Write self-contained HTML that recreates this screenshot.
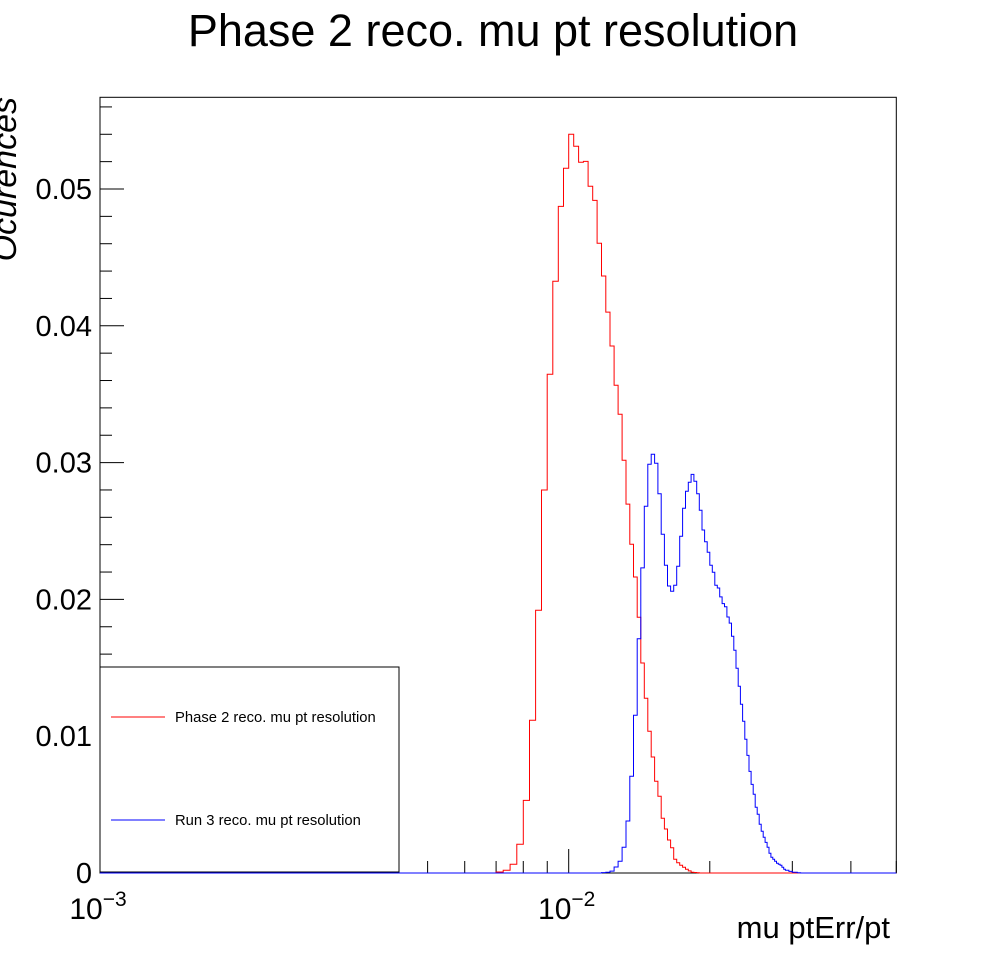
<!DOCTYPE html>
<html><head><meta charset="utf-8"><style>
html,body{margin:0;padding:0;background:#fff;}
svg{display:block;font-family:"Liberation Sans",Arial,sans-serif;}
</style></head><body>
<svg id="c" width="996" height="972" viewBox="0 0 996 972" xmlns="http://www.w3.org/2000/svg">
<rect x="0" y="0" width="996" height="972" fill="#fff"/>
<text x="493" y="46" font-size="45" text-anchor="middle">Phase 2 reco. mu pt resolution</text>
<text transform="translate(16,97) rotate(-90)" font-size="34" font-style="italic" text-anchor="end">Ocurences</text>
<text x="890" y="938" font-size="31" text-anchor="end">mu ptErr/pt</text>
<g id="axes"></g>
<g id="series"></g>
<g id="legend"></g>
</svg>
<script>
const binWidth = 0.00025;
const redStart = 28;
const redValues = [0.00007,0.0002,0.00064,0.0021,0.00531,0.01116,0.0192,0.028,0.03646,0.04326,0.04873,0.05151,0.054,0.05312,0.05195,0.05202,0.0502,0.04917,0.04604,0.04364,0.041,0.03852,0.03566,0.03353,0.03017,0.02697,0.02403,0.02164,0.01869,0.01535,0.01277,0.01036,0.00848,0.0067,0.00561,0.004,0.00322,0.00241,0.00185,0.001,0.00075,0.00056,0.00042,0.00027,0.00015,0.00005,0.00004,0.00002];
const blueStart = 47;
const blueValues = [0.00003,0.00005,0.00014,0.00044,0.00086,0.00188,0.0038,0.00707,0.01153,0.01713,0.0223,0.02681,0.02988,0.03061,0.02995,0.02773,0.02476,0.02249,0.02098,0.02059,0.02103,0.02242,0.02461,0.02666,0.0279,0.02856,0.02914,0.02863,0.02773,0.02651,0.02507,0.02422,0.02344,0.02249,0.02198,0.02103,0.02083,0.02018,0.01969,0.01947,0.01871,0.01827,0.0173,0.01628,0.01496,0.01365,0.01233,0.01109,0.00977,0.0086,0.00743,0.00648,0.00575,0.0048,0.00429,0.00356,0.00305,0.00261,0.00224,0.00188,0.00144,0.00115,0.001,0.00086,0.00071,0.00064,0.00056,0.00042,0.00027,0.0002,0.0002,0.00012,0.00012,0.00005,0.00005,0.00005,0.00002,0.00002];
const yTickValues = [0,0.01,0.02,0.03,0.04,0.05];
const yTickLabels = ["0","0.01","0.02","0.03","0.04","0.05"];
const xMin = 0.001, xMax = 0.05, yMax = 0.0567;

const L=100, R=896.3, T=97.3, B=873;
function xs(v){return L + (R-L)*Math.log10(v/xMin)/Math.log10(xMax/xMin);}
function ys(v){return B - v*13680;}
const NS="http://www.w3.org/2000/svg";
function mk(tag,attrs,parent){const e=document.createElementNS(NS,tag);for(const k in attrs)e.setAttribute(k,attrs[k]);parent.appendChild(e);return e;}
const axes=document.getElementById('axes');
const series=document.getElementById('series');
const legend=document.getElementById('legend');

const fr=mk('rect',{x:L,y:T,width:R-L,height:B-T,fill:'none',stroke:'#000','stroke-width':1},axes);



for(let i=0;i*0.002<=yMax;i++){
  const v=i*0.002, y=ys(v), major=(i%5===0);
  const t=mk('line',{x1:L,x2:L+(major?24:12),y1:y,y2:y,stroke:'#000','stroke-width':1},axes);
  
  
}
yTickValues.forEach((v,i)=>{
  const t=mk('text',{x:92,y:ys(v)+10,'font-size':29,'text-anchor':'end'},axes);
  t.textContent=yTickLabels[i];
  
  
});
for(let d=-3;d<=-2;d++){
  for(let m=1;m<=9;m++){
    const v=m*Math.pow(10,d);
    if(v<xMin||v>xMax)continue;
    const x=xs(v), major=(m===1);
    const t=mk('line',{x1:x,x2:x,y1:B,y2:B-(major?24:12),stroke:'#000','stroke-width':1},axes);
    
    
  }
}
[[-3,xMin],[-2,0.01]].forEach(([e,v])=>{
  const t=mk('text',{x:xs(v)-2,y:919,'font-size':30,'text-anchor':'middle'},axes);
  t.appendChild(document.createTextNode('10'));
  const s=mk('tspan',{dy:-13,'font-size':21},t);
  s.textContent='\u2212'+(-e);
  
  
});

function histPath(start,vals){
  const kMin=Math.ceil(xMin/binWidth), kMax=Math.floor(xMax/binWidth);
  let d='M'+xs(xMin).toFixed(1)+','+B;
  for(let k=kMin;k<kMax;k++){
    const idx=k-start;
    const v=(idx>=0&&idx<vals.length)?vals[idx]:0;
    const x0=xs(k*binWidth), x1=xs((k+1)*binWidth), y=ys(v);
    d+=' L'+x0.toFixed(1)+','+y.toFixed(1)+' L'+x1.toFixed(1)+','+y.toFixed(1);
  }
  d+=' L'+xs(xMax).toFixed(1)+','+B;
  return d;
}
const pr=mk('path',{d:histPath(redStart,redValues),fill:'none',stroke:'#ff0000','stroke-width':1},series);


const pb=mk('path',{d:histPath(blueStart,blueValues),fill:'none',stroke:'#0000ff','stroke-width':1},series);



const lb=mk('rect',{x:100,y:667,width:299,height:205,fill:'#fff',stroke:'#000','stroke-width':1},legend);


[['#ff0000',717,'Phase 2 reco. mu pt resolution','legend-entry-phase2'],['#0000ff',820,'Run 3 reco. mu pt resolution','legend-entry-run3']].forEach(([c,y,txt,nm])=>{
  const g=mk('g',{},legend);
  
  
  mk('line',{x1:111,x2:165,y1:y,y2:y,stroke:c,'stroke-width':1},g);
  const t=mk('text',{x:175,y:y+5,'font-size':14.8},g);
  t.textContent=txt;
});
</script>
</body></html>
